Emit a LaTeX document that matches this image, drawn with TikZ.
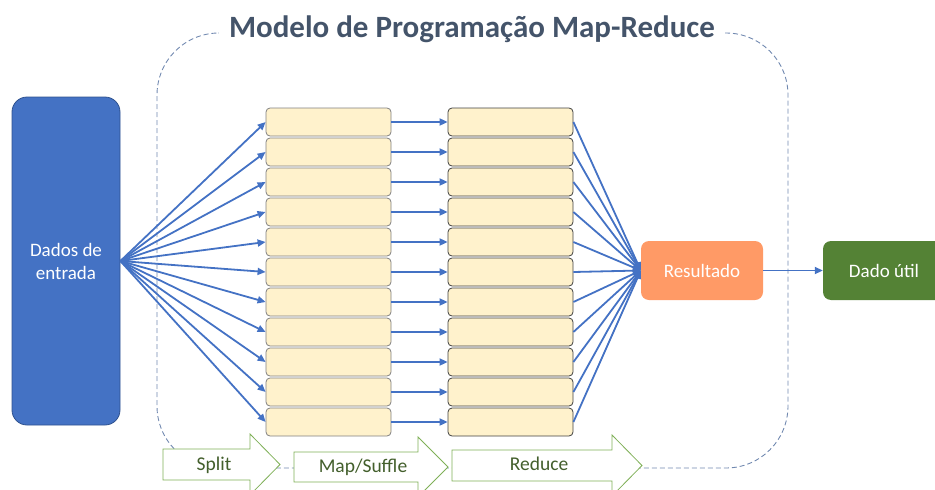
\documentclass[tikz,border=0pt]{standalone}
\usepackage{fontspec}
\setmainfont{Carlito}
\usetikzlibrary{positioning,arrows.meta}

\definecolor{inblue}{HTML}{4472C4}
\definecolor{inborder}{HTML}{2F528F}
\definecolor{chunk}{HTML}{FFF2CC}
\definecolor{resorange}{HTML}{FF9A66}
\definecolor{utilgreen}{HTML}{548235}
\definecolor{stageline}{HTML}{7FB057}
\definecolor{stagetext}{HTML}{435F2C}
\definecolor{titlegray}{HTML}{44546A}
\definecolor{frameblue}{HTML}{7189B0}

\begin{document}
\begin{tikzpicture}[x=1pt,y=-1pt,
    flow/.style={draw=inblue, line width=1.8pt, -{Triangle[length=8pt,width=7pt]}},
    chunkbox/.style={draw=#1, fill=chunk, rounded corners=4pt, line width=0.8pt,
        minimum width=125pt, minimum height=28pt, inner sep=0pt},
    bigbox/.style={rounded corners=8pt, text=white, align=center,
        font=\fontsize{19}{23}\selectfont, inner sep=0pt},
    stagearrow/.style={draw=stageline, fill=white, line width=0.8pt},
    stagelabel/.style={anchor=base, text=stagetext, font=\fontsize{19.5}{23}\selectfont}]
    \useasboundingbox (0,0) rectangle (935,490);

    % Frame
    \draw[frameblue, dash pattern=on 5pt off 3pt, line width=0.9pt, rounded corners=62pt]
        (725,33) -- (788,33) -- (788,468) -- (157,468) -- (157,33) -- (218,33);
    \node[anchor=base, text=titlegray, font=\fontsize{31}{36}\selectfont\bfseries]
        (title) at (472,37) {Modelo de Programação Map-Reduce};

    % Input and output
    \node[bigbox, draw=inborder, fill=inblue, line width=0.8pt, rounded corners=15pt,
        minimum width=108pt, minimum height=328pt] (dados) at (66,261) {Dados de\\entrada};
    \node[bigbox, fill=resorange, minimum width=122pt, minimum height=59pt] (res) at (702,270.5) {Resultado};
    \node[bigbox, fill=utilgreen, minimum width=122pt, minimum height=59pt] (util) at (884,270.5) {Dado útil};

    % Chunks
    \foreach \i in {1,...,11} {
        \node[chunkbox=gray] (split\i) at (328.5,92+30*\i) {};
        \node[chunkbox=black!75] (red\i) at (510.5,92+30*\i) {};
        \draw[flow] (dados.east) -- (split\i.west);
        \draw[flow] (split\i) -- (red\i);
        \draw[flow] (red\i.east) -- (res.west);
    }
    \draw[flow] (res) -- (util);

    % Stages
    \draw[stagearrow] (163,449) -- (250,449) -- (250,434) -- (280,464.5) -- (250,495)
        -- (250,480) -- (163,480) -- cycle;
    \node[stagelabel] (split) at (214,470) {Split};
    \draw[stagearrow] (294,452) -- (418,452) -- (418,437) -- (448,467) -- (418,497)
        -- (418,482) -- (294,482) -- cycle;
    \node[stagelabel] (map) at (363,472) {Map/Suffle};
    \draw[stagearrow] (452,450) -- (612,450) -- (612,435) -- (642,465.5) -- (612,496)
        -- (612,481) -- (452,481) -- cycle;
    \node[stagelabel] (reduce) at (539,470) {Reduce};
\end{tikzpicture}
\end{document}
